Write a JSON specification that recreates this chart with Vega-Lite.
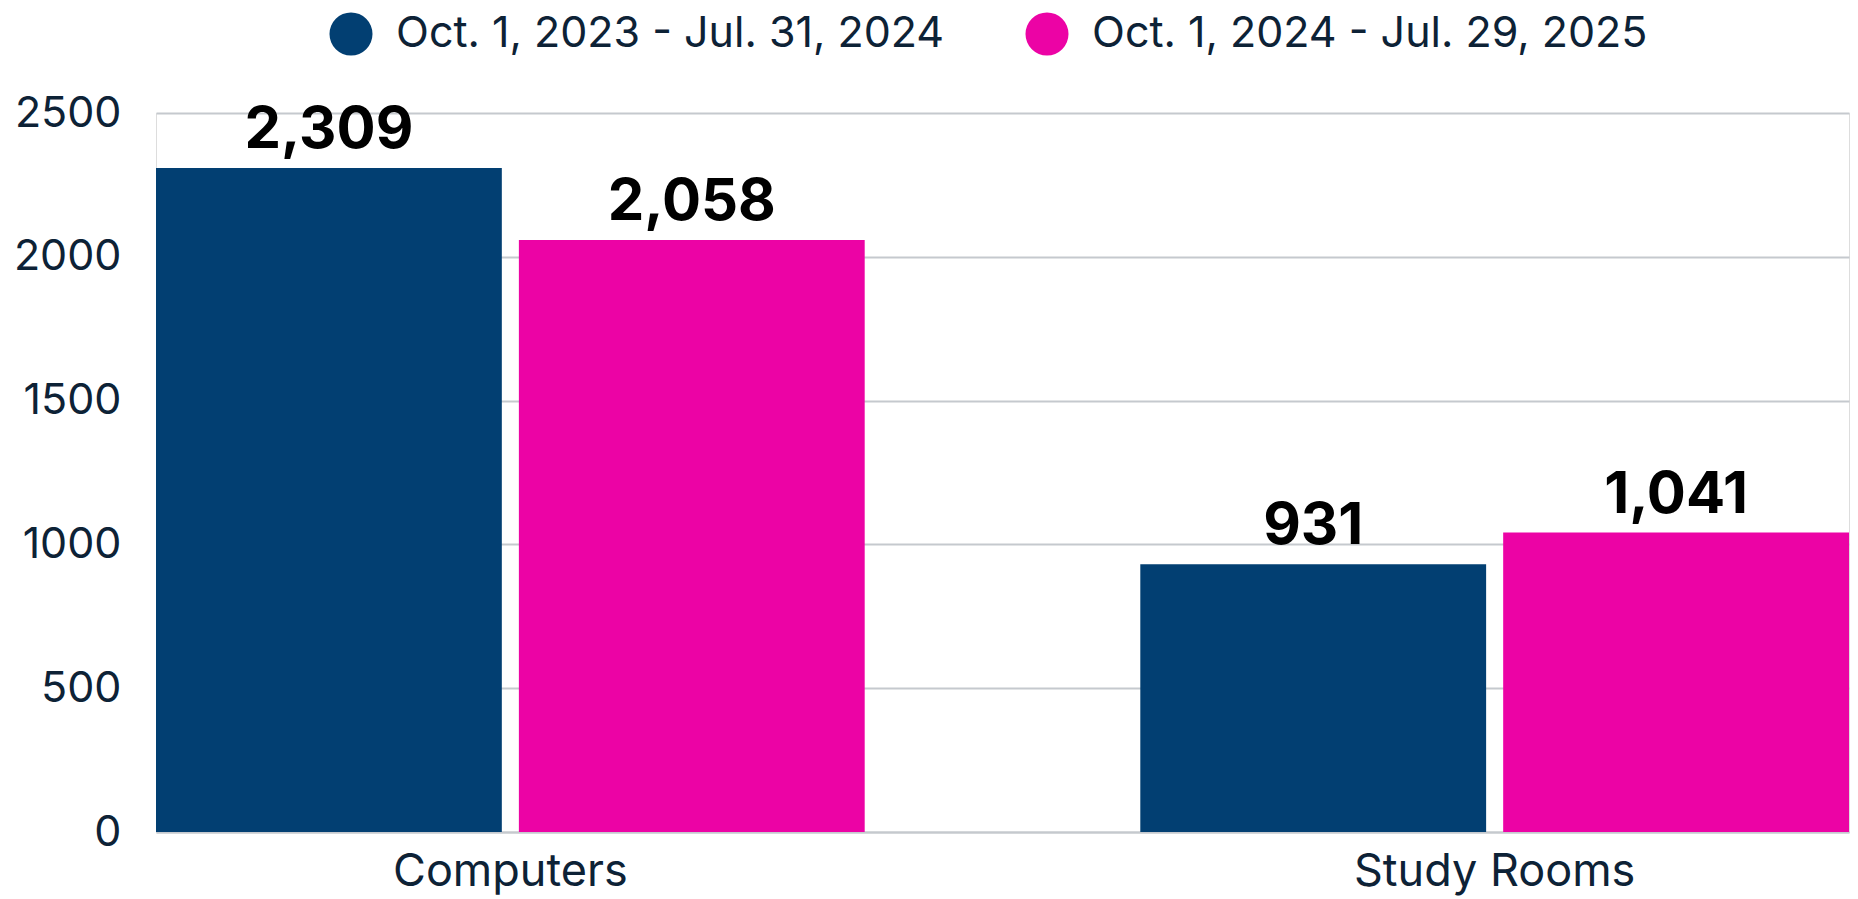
{
  "$schema": "https://vega.github.io/schema/vega-lite/v6.json",
  "autosize": {"type": "none"},
  "width": 1693,
  "height": 719,
  "padding": {"left": 156, "top": 113, "right": 9, "bottom": 67},
  "background": "white",
  "data": {
    "values": [
      {"category": "Computers", "period": "Oct. 1, 2023 - Jul. 31, 2024", "value": 2309},
      {"category": "Computers", "period": "Oct. 1, 2024 - Jul. 29, 2025", "value": 2058},
      {"category": "Study Rooms", "period": "Oct. 1, 2023 - Jul. 31, 2024", "value": 931},
      {"category": "Study Rooms", "period": "Oct. 1, 2024 - Jul. 29, 2025", "value": 1041}
    ]
  },
  "encoding": {
    "x": {
      "field": "category",
      "type": "nominal",
      "scale": {"paddingInner": 0.28, "paddingOuter": 0},
      "axis": {
        "title": null,
        "labelAngle": 0,
        "labelFont": "Inter",
        "labelFontSize": 45,
        "labelColor": "#0d2236",
        "labelPadding": 17,
        "labelLimit": 1000,
        "ticks": false,
        "tickSize": 0,
        "domainColor": "#c5c9ce",
        "domainWidth": 2,
        "grid": false
      }
    },
    "xOffset": {
      "field": "period",
      "type": "nominal",
      "scale": {"paddingInner": 0.047, "paddingOuter": 0}
    },
    "y": {
      "field": "value",
      "type": "quantitative",
      "scale": {"domain": [0, 2500], "nice": false},
      "axis": {
        "title": null,
        "values": [0, 500, 1000, 1500, 2000, 2500],
        "format": "d",
        "labelFont": "Inter",
        "labelFontSize": 43,
        "labelColor": "#0d2236",
        "labelPadding": 35,
        "ticks": false,
        "tickSize": 0,
        "domain": false,
        "grid": true,
        "gridColor": "#c5c9ce",
        "gridWidth": 2
      }
    }
  },
  "layer": [
    {
      "mark": {"type": "bar"},
      "encoding": {
        "color": {
          "field": "period",
          "type": "nominal",
          "scale": {"range": ["#023f72", "#ec03a5"]},
          "legend": {
            "title": null,
            "orient": "none",
            "direction": "horizontal",
            "legendX": 173,
            "legendY": -101,
            "padding": 0,
            "symbolType": "circle",
            "symbolSize": 1850,
            "symbolStrokeWidth": 0,
            "labelFont": "Inter",
            "labelFontSize": 43,
            "labelColor": "#0d2236",
            "labelOffset": 23,
            "columnPadding": 80,
            "labelLimit": 1000
          }
        }
      }
    },
    {
      "mark": {
        "type": "text",
        "baseline": "alphabetic",
        "dy": -20,
        "font": "Inter",
        "fontSize": 58,
        "fontWeight": "bold",
        "color": "#000000"
      },
      "encoding": {
        "text": {"field": "value", "type": "quantitative", "format": ","}
      }
    }
  ]
}
